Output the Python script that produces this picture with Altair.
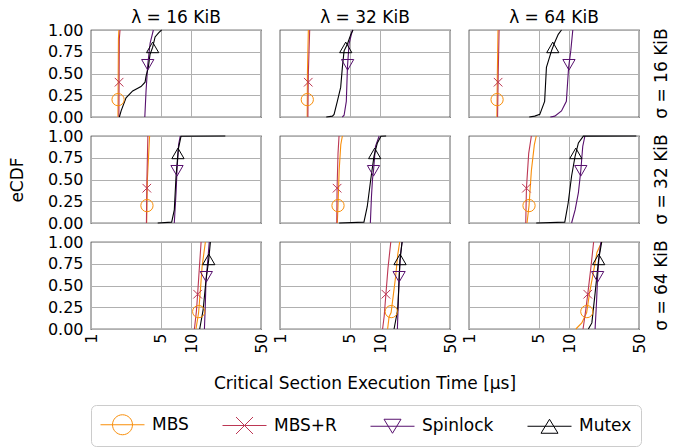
import altair as alt
import numpy as np
import pandas as pd

SERIES = ["MBS", "MBS+R", "Spinlock", "Mutex"]
COLORS = ["#f98e09", "#bc3754", "#57106e", "#000004"]
MARKER_Y = [0.2, 0.4, 0.6, 0.8]
LAMBDA_LABELS = ["λ = 16 KiB", "λ = 32 KiB", "λ = 64 KiB"]
SIGMA_LABELS = ["σ = 16 KiB", "σ = 32 KiB", "σ = 64 KiB"]
X_TICKS = [1, 5, 10, 50]
Y_TICKS = [0, 0.25, 0.5, 0.75, 1.0]

# eCDF curves: (time in µs, cumulative fraction)
s16_l16 = {
    "MBS": [(1.86, 0), (1.88, 0.9), (1.9, 1)],
    "MBS+R": [(1.9, 0), (1.92, 0.9), (1.95, 1)],
    "Spinlock": [(3.45, 0), (3.55, 0.3), (3.69, 0.6), (3.9, 0.85), (4.2, 1)],
    "Mutex": [(1.92, 0), (2.0, 0.07), (2.24, 0.22), (2.61, 0.30), (3.16, 0.35), (3.47, 0.40),
              (3.55, 0.47), (3.74, 0.57), (3.89, 0.72), (4.13, 0.80), (4.37, 0.92), (4.76, 0.97), (5.08, 1)],
}
s16_l32 = {
    "MBS": [(1.87, 0), (1.88, 0.5), (1.92, 1)],
    "MBS+R": [(1.9, 0), (1.92, 0.5), (1.98, 1)],
    "Spinlock": [(4.2, 0), (4.37, 0.02), (4.6, 0.18), (4.72, 0.57), (4.9, 0.84), (5.3, 1)],
    "Mutex": [(2.9, 0), (3.34, 0.01), (3.47, 0.03), (3.74, 0.18), (4.04, 0.34), (4.2, 0.57),
              (4.37, 0.76), (4.72, 0.84), (5.1, 0.95), (5.37, 1)],
}
s16_l64 = {
    "MBS": [(1.9, 0), (1.92, 0.5), (1.95, 1)],
    "MBS+R": [(1.93, 0), (1.96, 0.5), (2.0, 1)],
    "Spinlock": [(6.5, 0), (7.2, 0.01), (8.4, 0.07), (9.4, 0.18), (9.9, 0.57), (10.4, 0.76), (10.9, 1)],
    "Mutex": [(4.0, 0), (4.54, 0.01), (5.1, 0.03), (5.7, 0.18), (5.94, 0.57), (6.67, 0.76),
              (7.2, 0.86), (7.8, 0.95), (8.4, 1)],
}
s32_l16 = {
    "MBS": [(3.6, 0), (3.66, 0.5), (3.85, 1)],
    "MBS+R": [(3.58, 0), (3.62, 0.5), (3.7, 1)],
    "Spinlock": [(6.8, 0), (7.08, 0.35), (7.25, 0.62), (7.5, 0.9), (7.8, 1)],
    "Mutex": [(4.64, 0), (6.4, 0.01), (6.8, 0.15), (7.08, 0.54), (7.46, 0.85), (7.94, 0.998), (22, 1)],
}
s32_l32 = {
    "MBS": [(3.74, 0), (3.8, 0.2), (3.9, 0.6), (4.05, 0.9), (4.2, 1)],
    "MBS+R": [(3.69, 0), (3.72, 0.4), (3.8, 0.8), (3.89, 1)],
    "Spinlock": [(8.0, 0), (8.2, 0.3), (8.4, 0.5), (8.6, 0.6), (9.0, 0.88), (9.8, 1)],
    "Mutex": [(3.9, 0), (6.9, 0.01), (7.45, 0.19), (8.07, 0.5), (8.7, 0.77), (9.4, 0.92), (10.2, 0.998), (11.5, 1)],
}
s32_l64 = {
    "MBS": [(3.8, 0), (3.98, 0.2), (4.2, 0.6), (4.5, 0.9), (4.7, 1)],
    "MBS+R": [(3.69, 0), (3.75, 0.4), (3.95, 0.8), (4.2, 1)],
    "Spinlock": [(10.6, 0), (11.5, 0.15), (12.4, 0.35), (13.1, 0.6), (13.7, 0.88), (14.4, 1)],
    "Mutex": [(4.7, 0), (9.06, 0.01), (9.8, 0.23), (10.6, 0.54), (11.5, 0.77), (12.4, 0.92), (13.9, 0.998), (47, 1)],
}
s64_l16 = {
    "MBS": [(11.2, 0), (11.9, 0.19), (12.4, 0.45), (12.9, 0.72), (13.9, 1)],
    "MBS+R": [(10.8, 0), (11.3, 0.2), (11.6, 0.38), (12.1, 0.7), (12.6, 1)],
    "Spinlock": [(13.6, 0), (13.9, 0.3), (14.1, 0.56), (14.7, 0.79), (15.2, 1)],
    "Mutex": [(12.2, 0), (13.2, 0.22), (14.1, 0.56), (15.0, 0.79), (15.6, 1)],
}
s64_l32 = {
    "MBS": [(11.9, 0), (12.3, 0.14), (12.9, 0.19), (14.3, 0.6), (15.0, 0.85), (15.7, 1)],
    "MBS+R": [(10.6, 0), (11.0, 0.15), (11.4, 0.38), (12.0, 0.7), (12.8, 1)],
    "Spinlock": [(14.9, 0), (15.2, 0.3), (15.5, 0.6), (16.0, 0.85), (16.6, 1)],
    "Mutex": [(13.8, 0), (15.0, 0.22), (15.5, 0.55), (15.8, 0.79), (16.6, 1)],
}
s64_l64 = {
    "MBS": [(11.7, 0), (13.4, 0.07), (15.0, 0.19), (16.0, 0.41), (17.5, 0.65), (19.0, 0.88), (21.2, 1)],
    "MBS+R": [(13.8, 0), (14.6, 0.2), (15.3, 0.38), (16.5, 0.7), (17.6, 1)],
    "Spinlock": [(18.2, 0), (18.8, 0.3), (19.3, 0.6), (20.0, 0.85), (20.8, 1)],
    "Mutex": [(15.6, 0), (16.9, 0.07), (18.2, 0.41), (19.7, 0.79), (21.2, 1)],
}

PANELS = [
    (SIGMA_LABELS[0], LAMBDA_LABELS[0], s16_l16),
    (SIGMA_LABELS[0], LAMBDA_LABELS[1], s16_l32),
    (SIGMA_LABELS[0], LAMBDA_LABELS[2], s16_l64),
    (SIGMA_LABELS[1], LAMBDA_LABELS[0], s32_l16),
    (SIGMA_LABELS[1], LAMBDA_LABELS[1], s32_l32),
    (SIGMA_LABELS[1], LAMBDA_LABELS[2], s32_l64),
    (SIGMA_LABELS[2], LAMBDA_LABELS[0], s64_l16),
    (SIGMA_LABELS[2], LAMBDA_LABELS[1], s64_l32),
    (SIGMA_LABELS[2], LAMBDA_LABELS[2], s64_l64),
]

rows = []
for sig, lam, panel in PANELS:
    for k, s in enumerate(SERIES):
        pts = panel[s]
        for i, (x, y) in enumerate(pts):
            rows.append(dict(sigma=sig, lam=lam, series=s, kind="line", i=i, x=x, y=y))
        xs = np.log10([p[0] for p in pts])
        ys = [p[1] for p in pts]
        mx = float(10 ** np.interp(MARKER_Y[k], ys, xs))
        rows.append(dict(sigma=sig, lam=lam, series=s, kind="marker", i=0, x=mx, y=MARKER_Y[k]))
df = pd.DataFrame(rows)

# plot marker shapes (unit coordinates scaled by size)
PLOT_SHAPES = ["circle", "M-0.7,-0.7L0.7,0.7M-0.7,0.7L0.7,-0.7", "triangle-down", "triangle-up"]

# legend symbols: line with marker; symbol box is [-1,1] (20px), line runs to the right of it
LEG = {
    "MBS": "M-1,0H3.4M2.2,0A1,1 0 1,1 0.2,0A1,1 0 1,1 2.2,0",
    "MBS+R": "M-1,0H3.4M0.35,-0.85L2.05,0.85M0.35,0.85L2.05,-0.85",
    "Spinlock": "M-1,0H3.4M0.35,-0.7L2.05,-0.7L1.2,0.7Z",
    "Mutex": "M-1,0H3.4M1.2,-0.7L0.35,0.7L2.05,0.7Z",
}
shape_expr = ("datum.value === 'MBS' ? '%s' : datum.value === 'MBS+R' ? '%s' : "
              "datum.value === 'Spinlock' ? '%s' : '%s'") % (LEG["MBS"], LEG["MBS+R"], LEG["Spinlock"], LEG["Mutex"])

FONT = "DejaVu Sans"

color = alt.Color(
    "series:N",
    scale=alt.Scale(domain=SERIES, range=COLORS),
    legend=alt.Legend(
        title=None, orient="bottom", direction="horizontal", columns=4,
        symbolType={"expr": shape_expr},
        symbolSize=400, symbolStrokeWidth=1, symbolFillColor="transparent",
        labelFontSize=17, labelFont=FONT,
        labelColor="black", labelOffset=31, columnPadding=31, padding=9, offset=13,
        strokeColor="#cccccc", cornerRadius=5, fillColor="white",
    ),
)

x_enc = alt.X(
    "x:Q",
    scale=alt.Scale(type="log", domain=[1, 50], nice=False),
    axis=alt.Axis(values=X_TICKS, format="d", labelAngle=-90, ticks=False, domain=False,
                  labelPadding=4, title=None, gridColor="#b0b0b0", labelFlush=False),
)
y_enc = alt.Y(
    "y:Q",
    scale=alt.Scale(domain=[0, 1], nice=False),
    axis=alt.Axis(values=Y_TICKS, format=".2f", ticks=False, domain=False, labelPadding=8,
                  title=None, gridColor="#b0b0b0"),
)

lines = alt.Chart().transform_filter(alt.datum.kind == "line").mark_line(strokeWidth=1.1).encode(
    x=x_enc, y=y_enc, color=color, order="i:Q", detail="series:N"
)
marker_layers = [
    alt.Chart().transform_filter(
        (alt.datum.kind == "marker") & (alt.datum.series == s)
    ).mark_point(
        filled=False, size=150, strokeWidth=1, opacity=1, shape=PLOT_SHAPES[k], color=COLORS[k]
    ).encode(x=x_enc, y=y_enc)
    for k, s in enumerate(SERIES)
]

chart = alt.layer(lines, *marker_layers, data=df).properties(width=170, height=87).facet(
    row=alt.Row("sigma:N", sort=SIGMA_LABELS, title="eCDF",
                header=alt.Header(labelOrient="right", labelAngle=-90, labelFontSize=17,
                                  labelFont=FONT, labelColor="black", labelPadding=6,
                                  titleOrient="left", titleFontSize=17, titleFont=FONT,
                                  titleColor="black", titleFontWeight="normal", titlePadding=10)),
    column=alt.Column("lam:N", sort=LAMBDA_LABELS, title="Critical Section Execution Time [µs]",
                      header=alt.Header(labelFontSize=17, labelFont=FONT,
                                        labelColor="black", labelPadding=3,
                                        titleOrient="bottom", titleFontSize=17, titleFont=FONT,
                                        titleColor="black", titleFontWeight="normal", titlePadding=12)),
    spacing=19,
    bounds="flush",
).properties(
    padding={"left": 1, "top": 1, "right": 0, "bottom": 0}
).configure(font=FONT, background="white").configure_view(
    stroke="black", strokeWidth=1.2
).configure_axis(
    labelFont=FONT, labelFontSize=16, labelColor="black",
)

chart.save("out.html", embed_options={"renderer": "svg", "actions": False})
